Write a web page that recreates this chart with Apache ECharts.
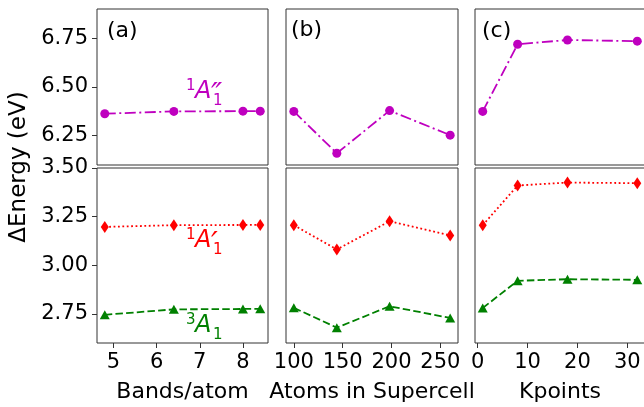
<!DOCTYPE html>
<html>
<head>
<meta charset="utf-8">
<script src="https://cdn.jsdelivr.net/npm/echarts@6/dist/echarts.min.js"></script>
<style>
  html, body { margin: 0; padding: 0; background: #fff; }
  #chart { width: 644px; height: 407px; }
</style>
</head>
<body>
<div id="chart"></div>
<script>
// (a) bands per atom
var bandsX  = [4.8, 6.4, 8.0, 8.4];
var bandsS2 = [6.363, 6.375, 6.376, 6.376];   // 1A1''
var bandsS1 = [3.197, 3.206, 3.207, 3.207];   // 1A1'
var bandsT  = [2.745, 2.773, 2.775, 2.776];   // 3A1

// (b) atoms in supercell
var atomsX  = [100, 144, 198, 260];
var atomsS2 = [6.375, 6.160, 6.379, 6.253];
var atomsS1 = [3.206, 3.081, 3.226, 3.153];
var atomsT  = [2.781, 2.679, 2.789, 2.729];

// (c) kpoints
var kptsX  = [1, 8, 18, 32];
var kptsS2 = [6.375, 6.719, 6.741, 6.735];
var kptsS1 = [3.206, 3.410, 3.425, 3.422];
var kptsT  = [2.780, 2.920, 2.928, 2.925];

var topTicks   = [6.25, 6.50, 6.75];
var botTicks   = [2.75, 3.00, 3.25, 3.50];
var bandsTicks = [5, 6, 7, 8];
var atomsTicks = [100, 150, 200, 250];
var kptsTicks  = [0, 10, 20, 30];

var FONT = 'DejaVu Sans';
var MAG = '#bf00bf', RED = '#ff0000', GRN = '#008000';

function pts(xs, ys) {
    return xs.map(function (x, i) { return [x, ys[i]]; });
}

var cols = [
    { left: 97,  width: 171, min: 4.62, max: 8.58,  ticks: bandsTicks, name: 'Bands/atom' },
    { left: 286, width: 172, min: 92,   max: 268,   ticks: atomsTicks, name: 'Atoms in Supercell' },
    { left: 475, width: 170, min: -0.55, max: 33.55, ticks: kptsTicks, name: 'Kpoints' }
];

var grids = [], xAxes = [], yAxes = [];
// rows: 0 = upper (singlet A''), 1 = lower
[0, 1].forEach(function (row) {
    cols.forEach(function (c, ci) {
        grids.push({
            left: c.left, width: c.width,
            top: row === 0 ? 9 : 168,
            height: row === 0 ? 156 : 175,
            show: true, borderColor: '#333', borderWidth: 1,
            outerBoundsMode: 'none'
        });
        var gi = grids.length - 1;
        xAxes.push({
            type: 'value', gridIndex: gi, min: c.min, max: c.max,
            axisLine: { show: false },
            splitLine: { show: false },
            axisTick: { show: row === 1, inside: false, length: 5, lineStyle: { color: '#333' }, customValues: c.ticks },
            axisLabel: { show: row === 1, margin: 9, color: '#000', fontFamily: FONT, fontSize: 21, customValues: c.ticks },
            name: row === 1 ? c.name : '',
            nameLocation: 'middle', nameGap: 38,
            nameTextStyle: { color: '#000', fontFamily: FONT, fontSize: 22 }
        });
        var yt = row === 0 ? topTicks : botTicks;
        yAxes.push({
            type: 'value', gridIndex: gi,
            min: row === 0 ? 6.1 : 2.6, max: row === 0 ? 6.9 : 3.5,
            axisLine: { show: false },
            splitLine: { show: false },
            axisTick: { show: ci === 0, length: 5, lineStyle: { color: '#333' }, customValues: yt },
            axisLabel: {
                show: ci === 0, margin: 9, color: '#000', fontFamily: FONT, fontSize: 21,
                customValues: yt,
                formatter: function (v) { return v.toFixed(2); }
            }
        });
    });
});

function line(gi, data, color, dash, symbol, size) {
    return {
        type: 'line', xAxisIndex: gi, yAxisIndex: gi, data: data,
        symbol: symbol, symbolSize: size, showSymbol: true,
        itemStyle: { color: color },
        lineStyle: { color: color, width: 1.8, type: dash },
        animation: false, z: 3
    };
}

var dashdot = [11, 3.5, 2, 3.5];
var dashed = [7.5, 3.2];
var dotted = [1.8, 2.6];

var series = [
    line(0, pts(bandsX, bandsS2), MAG, dashdot, 'circle', 9),
    line(1, pts(atomsX, atomsS2), MAG, dashdot, 'circle', 9),
    line(2, pts(kptsX, kptsS2),   MAG, dashdot, 'circle', 9),
    line(3, pts(bandsX, bandsS1), RED, dotted, 'diamond', [8, 12]),
    line(4, pts(atomsX, atomsS1), RED, dotted, 'diamond', [8, 12]),
    line(5, pts(kptsX, kptsS1),   RED, dotted, 'diamond', [8, 12]),
    line(3, pts(bandsX, bandsT),  GRN, dashed, 'triangle', [10, 9]),
    line(4, pts(atomsX, atomsT),  GRN, dashed, 'triangle', [10, 9]),
    line(5, pts(kptsX, kptsT),    GRN, dashed, 'triangle', [10, 9])
];

// state label like  ^1A_1''  (pixel anchor = left edge, vertical centre of the A)
function stateLabel(x0, yc, color, sup, prime) {
    function t(text, x, y, size, italic) {
        return {
            type: 'text', z: 10,
            style: {
                text: text, x: x, y: y, fill: color,
                font: (italic ? 'italic ' : '') + size + 'px "' + FONT + '"',
                verticalAlign: 'middle', align: 'left'
            }
        };
    }
    var els = [
        t(sup, x0, yc - 6, 15, false),
        t('A', x0 + 9, yc, 24, true),
        t('1', x0 + 27, yc + 9, 15, false)
    ];
    if (prime) els.push(t(prime, x0 + 25, yc + 4, 30, true));
    return { type: 'group', children: els };
}

function panelLabel(text, x, y) {
    return {
        type: 'text', z: 10,
        style: { text: text, x: x, y: y, fill: '#000', font: '22px "' + FONT + '"', verticalAlign: 'middle' }
    };
}

var chart = echarts.init(document.getElementById('chart'), null, { renderer: 'canvas' });
chart.setOption({
    backgroundColor: '#fff',
    animation: false,
    grid: grids,
    xAxis: xAxes,
    yAxis: yAxes,
    series: series,
    graphic: [
        panelLabel('(a)', 107, 31),
        panelLabel('(b)', 291, 30),
        panelLabel('(c)', 482, 31),
        {
            type: 'text', z: 10, x: 19, y: 167, rotation: Math.PI / 2,
            style: { text: '\u0394Energy (eV)', fill: '#000', font: '23px "' + FONT + '"', align: 'center', verticalAlign: 'middle' }
        },
        stateLabel(186, 92, MAG, '1', '\u2033'),
        stateLabel(186, 241, RED, '1', '\u2032'),
        stateLabel(186, 326, GRN, '3', '')
    ]
});
window.addEventListener('resize', function () { chart.resize(); });
</script>
</body>
</html>
